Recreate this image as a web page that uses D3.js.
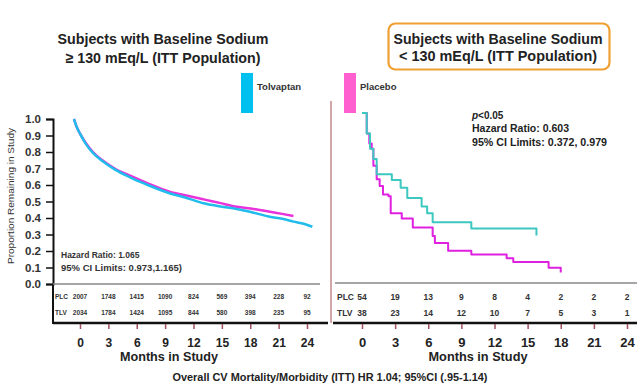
<!DOCTYPE html>
<html>
<head>
<meta charset="utf-8">
<script src="https://cdn.jsdelivr.net/npm/d3@7"></script>
<style>
  body { margin: 0; background: #fff; }
  svg { display: block; font-family: "Liberation Sans", Arial, sans-serif; }
</style>
</head>
<body>
<svg id="chart" width="640" height="387"></svg>
<script>
// x ticks (months) and y ticks (proportion)
var monthTicks = [0, 3, 6, 9, 12, 15, 18, 21, 24];
var yTicks = [0, 0.1, 0.2, 0.3, 0.4, 0.5, 0.6, 0.7, 0.8, 0.9, 1.0];

// numbers at risk
var leftPlcAtRisk = [2007, 1748, 1415, 1090, 824, 569, 394, 228, 92];
var leftTlvAtRisk = [2034, 1784, 1424, 1095, 844, 580, 398, 235, 95];
var rightPlcAtRisk = [54, 19, 13, 9, 8, 4, 2, 2, 2];
var rightTlvAtRisk = [38, 23, 14, 12, 10, 7, 5, 3, 1];

// sodium >= 130: [month, proportion]
var leftPlacebo = [[0, 1], [0.3, 0.95], [0.65, 0.91], [1.3, 0.85], [2.0, 0.80], [3.0, 0.75],
  [4.3, 0.70], [6.0, 0.655], [7.8, 0.61], [10.1, 0.56], [12, 0.535], [13.7, 0.513],
  [15.5, 0.49], [17.2, 0.468], [19, 0.455], [20.7, 0.438], [22, 0.425], [23.2, 0.412]];
var leftTolvaptan = [[0, 1], [0.3, 0.95], [0.65, 0.91], [1.3, 0.845], [2.0, 0.795], [3.0, 0.745],
  [4.3, 0.695], [6.0, 0.645], [7.8, 0.60], [10.1, 0.55], [12, 0.52], [13.7, 0.489],
  [15.5, 0.47], [17.2, 0.455], [19, 0.432], [20.7, 0.408], [22, 0.395], [23.2, 0.378],
  [24.3, 0.365], [25.2, 0.347]];

// sodium < 130: step points [month, proportion]
var rightTolvaptan = [[0, 1], [0.43, 0.88], [0.73, 0.79], [1.03, 0.73], [1.33, 0.64],
  [2.7, 0.606], [3.5, 0.56], [4.1, 0.50], [5.4, 0.45], [5.9, 0.41], [6.4, 0.357],
  [9.9, 0.32], [15.8, 0.28]];
var rightPlacebo = [[0, 1], [0.43, 0.88], [0.66, 0.82], [0.88, 0.79], [1.03, 0.69],
  [1.33, 0.61], [1.6, 0.57], [1.9, 0.52], [2.4, 0.51], [2.6, 0.41], [3.6, 0.38],
  [4.6, 0.326], [6.4, 0.276], [6.6, 0.235], [7.8, 0.19], [9.9, 0.168], [13.1, 0.145],
  [13.7, 0.123], [16.9, 0.09], [18.0, 0.062]];

var svg = d3.select("#chart");
var ink = "#222";

// scales
var leftX = d3.scaleLinear().domain([0, 24]).range([80, 307]);
var leftCurveX = d3.scaleLinear().domain([0, 24]).range([74, 301]);
var leftY = d3.scaleLinear().domain([0, 1]).range([284, 119]);
var rightX = d3.scaleLinear().domain([0, 24]).range([362, 627]);
var rightY = d3.scaleLinear().domain([0, 1]).range([283, 113]);

// titles
function title(lines, cx, ys, lens) {
  lines.forEach(function(s, i) {
    svg.append("text")
      .attr("x", cx).attr("y", ys[i])
      .attr("text-anchor", "middle")
      .attr("textLength", lens[i]).attr("lengthAdjust", "spacingAndGlyphs")
      .style("font-size", "15px").style("font-weight", "bold").style("fill", ink)
      .text(s);
  });
}
title(["Subjects with Baseline Sodium", "\u2265 130 mEq/L (ITT Population)"], 163, [44, 63], [211, 195]);

svg.append("rect")
  .attr("x", 388.5).attr("y", 23.5).attr("width", 221).attr("height", 46).attr("rx", 7)
  .style("fill", "none").style("stroke", "#f0a032").style("stroke-width", 2.2);
title(["Subjects with Baseline Sodium", "< 130 mEq/L (ITT Population)"], 498, [43.5, 60.5], [209, 198]);

// legend
var legend = [{name: "Tolvaptan", color: "#00c0f0", x: 241},
              {name: "Placebo", color: "#ff5fcf", x: 344}];
legend.forEach(function(d) {
  svg.append("rect").attr("x", d.x).attr("y", 73).attr("width", 12).attr("height", 40)
    .style("fill", d.color);
  svg.append("text").attr("x", d.x + 16).attr("y", 90)
    .style("font-size", "9.5px").style("font-weight", "bold").style("fill", "#333")
    .text(d.name);
});

// ---- left panel ----
var yAxis = d3.axisLeft(leftY).tickValues(yTicks).tickSize(7).tickPadding(5)
  .tickFormat(d3.format(".1f"));
var gy = svg.append("g").attr("transform", "translate(53,0)").call(yAxis);
gy.select(".domain").style("stroke", "#111").style("stroke-width", 2);
gy.selectAll(".tick line").style("stroke", "#111").style("stroke-width", 1.5);
gy.selectAll("text").style("font-size", "11.5px").style("font-weight", "bold")
  .style("fill", "#333").style("font-family", "Liberation Sans, Arial, sans-serif");

svg.append("text")
  .attr("transform", "translate(14,196) rotate(-90)")
  .attr("text-anchor", "middle")
  .attr("textLength", 136).attr("lengthAdjust", "spacingAndGlyphs")
  .style("font-size", "9.5px").style("fill", "#333")
  .text("Proportion Remaining in Study");

// table box
svg.append("line").attr("x1", 53).attr("x2", 53).attr("y1", 284).attr("y2", 324)
  .style("stroke", "#111").style("stroke-width", 2);
svg.append("line").attr("x1", 53).attr("x2", 320).attr("y1", 284).attr("y2", 284)
  .style("stroke", "#888").style("stroke-width", 1.5);

var line = d3.line();
function curve(data, sx, sy, color, width, shape) {
  svg.append("path")
    .datum(data)
    .attr("d", line.x(function(d) { return sx(d[0]); })
                   .y(function(d) { return sy(d[1]); })
                   .curve(shape))
    .style("fill", "none").style("stroke", color).style("stroke-width", width)
    .style("stroke-linejoin", "round");
}
curve(leftPlacebo, leftCurveX, leftY, "#e832dc", 2.5, d3.curveMonotoneX);
curve(leftTolvaptan, leftCurveX, leftY, "#20bcec", 2.5, d3.curveMonotoneX);

svg.append("text").attr("x", 61).attr("y", 258)
  .style("font-size", "8.5px").style("font-weight", "bold").style("fill", "#333")
  .text("Hazard Ratio: 1.065");
svg.append("text").attr("x", 61).attr("y", 271)
  .attr("textLength", 121).attr("lengthAdjust", "spacingAndGlyphs")
  .style("font-size", "8.5px").style("font-weight", "bold").style("fill", "#333")
  .text("95% CI Limits: 0.973,1.165)");

function atRisk(rows, sx, labelX, size) {
  rows.forEach(function(r) {
    svg.append("text").attr("x", labelX).attr("y", r.y)
      .style("font-size", size + "px").style("font-weight", "bold").style("fill", "#333")
      .text(r.label);
    svg.selectAll(null).data(r.values).enter().append("text")
      .attr("x", function(d, i) { return sx(monthTicks[i]); })
      .attr("y", r.y)
      .attr("text-anchor", "middle")
      .style("font-size", size + "px").style("font-weight", "bold").style("fill", "#333")
      .text(function(d) { return d; });
  });
}
atRisk([{label: "PLC", y: 299, values: leftPlcAtRisk},
        {label: "TLV", y: 315, values: leftTlvAtRisk}], leftX, 55, 6.5);

function bottomAxis(sx, x1, x2, size) {
  svg.append("line").attr("x1", x1).attr("x2", x2).attr("y1", 323).attr("y2", 323)
    .style("stroke", "#111").style("stroke-width", 2.5);
  var ax = d3.axisBottom(sx).tickValues(monthTicks).tickSize(5).tickPadding(9);
  var g = svg.append("g").attr("transform", "translate(0,324)").call(ax);
  g.select(".domain").remove();
  g.selectAll(".tick line").style("stroke", "#a05060").style("stroke-width", 1.5);
  g.selectAll("text").style("font-size", size + "px").style("font-weight", "bold")
    .style("fill", ink).style("font-family", "Liberation Sans, Arial, sans-serif");
}
bottomAxis(leftX, 53, 328, 12);

svg.append("text").attr("x", 169).attr("y", 361).attr("text-anchor", "middle")
  .attr("textLength", 98).attr("lengthAdjust", "spacingAndGlyphs")
  .style("font-size", "13px").style("font-weight", "bold").style("fill", ink)
  .text("Months in Study");

// ---- right panel ----
svg.append("line").attr("x1", 331).attr("x2", 331).attr("y1", 101).attr("y2", 323)
  .style("stroke", "#a05050").style("stroke-width", 1);
svg.append("line").attr("x1", 335).attr("x2", 637).attr("y1", 283).attr("y2", 283)
  .style("stroke", "#888").style("stroke-width", 1.5);

curve(rightPlacebo, rightX, rightY, "#e020e0", 2, d3.curveStepAfter);
curve(rightTolvaptan, rightX, rightY, "#3cc8c0", 2, d3.curveStepAfter);

svg.append("text").attr("x", 472).attr("y", 119)
  .style("font-size", "10px").style("font-weight", "bold").style("fill", ink)
  .call(function(t) {
    t.append("tspan").style("font-style", "italic").text("p");
    t.append("tspan").text("<0.05");
  });
svg.append("text").attr("x", 472).attr("y", 132)
  .attr("textLength", 97).attr("lengthAdjust", "spacingAndGlyphs")
  .style("font-size", "10px").style("font-weight", "bold").style("fill", ink)
  .text("Hazard Ratio: 0.603");
svg.append("text").attr("x", 472).attr("y", 145.5)
  .attr("textLength", 135).attr("lengthAdjust", "spacingAndGlyphs")
  .style("font-size", "10px").style("font-weight", "bold").style("fill", ink)
  .text("95% CI Limits: 0.372, 0.979");

// right table: label sits just left of first number
[{label: "PLC", y: 300, values: rightPlcAtRisk},
 {label: "TLV", y: 315.5, values: rightTlvAtRisk}].forEach(function(r) {
  svg.append("text").attr("x", 337).attr("y", r.y)
    .style("font-size", "8.5px").style("font-weight", "bold").style("fill", "#333")
    .text(r.label);
  svg.selectAll(null).data(r.values).enter().append("text")
    .attr("x", function(d, i) { return rightX(monthTicks[i]); })
    .attr("y", r.y)
    .attr("text-anchor", "middle")
    .style("font-size", "8.5px").style("font-weight", "bold").style("fill", "#333")
    .text(function(d) { return d; });
});

bottomAxis(rightX, 333, 637, 13);

svg.append("text").attr("x", 478).attr("y", 361).attr("text-anchor", "middle")
  .attr("textLength", 99).attr("lengthAdjust", "spacingAndGlyphs")
  .style("font-size", "13px").style("font-weight", "bold").style("fill", ink)
  .text("Months in Study");

// footnote
svg.append("text").attr("x", 330).attr("y", 381).attr("text-anchor", "middle")
  .attr("textLength", 315).attr("lengthAdjust", "spacingAndGlyphs")
  .style("font-size", "10.5px").style("font-weight", "bold").style("fill", ink)
  .text("Overall CV Mortality/Morbidity (ITT) HR 1.04; 95%CI (.95-1.14)");
</script>
</body>
</html>
